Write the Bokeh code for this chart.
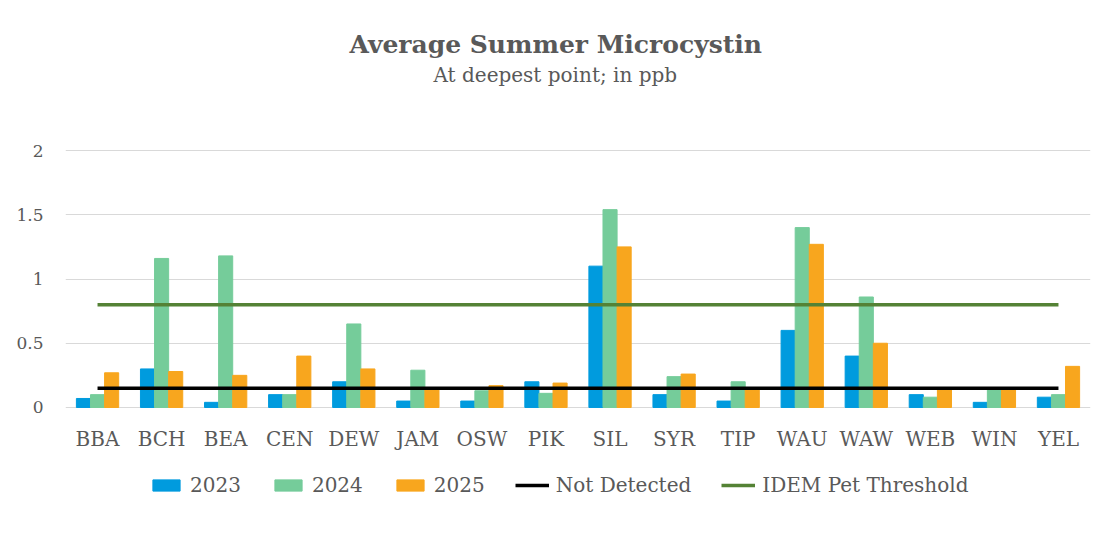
from bokeh.plotting import figure
from bokeh.layouts import column
from bokeh.models import FactorRange, Range1d, Title, Legend, LegendItem, FixedTicker
from bokeh.transform import dodge
from bokeh.embed import file_html
from bokeh.resources import INLINE

lakes = ["BBA", "BCH", "BEA", "CEN", "DEW", "JAM", "OSW", "PIK",
         "SIL", "SYR", "TIP", "WAU", "WAW", "WEB", "WIN", "YEL"]
v2023 = [0.07, 0.30, 0.04, 0.10, 0.20, 0.05, 0.05, 0.20,
         1.10, 0.10, 0.05, 0.60, 0.40, 0.10, 0.04, 0.08]
v2024 = [0.10, 1.16, 1.18, 0.10, 0.65, 0.29, 0.13, 0.11,
         1.54, 0.24, 0.20, 1.40, 0.86, 0.08, 0.15, 0.10]
v2025 = [0.27, 0.28, 0.25, 0.40, 0.30, 0.15, 0.17, 0.19,
         1.25, 0.26, 0.15, 1.27, 0.50, 0.15, 0.15, 0.32]
not_detected = [0.15] * len(lakes)
idem_threshold = [0.8] * len(lakes)
years = ["2023", "2024", "2025"]
line_names = ["Not Detected", "IDEM Pet Threshold"]
y_ticks = [0, 0.5, 1, 1.5, 2]

TEXT = "#595959"
FONT = "DejaVu Serif"
C23, C24, C25 = "#009BDE", "#75CC9A", "#F8A61E"
CND, CIDEM = "#000000", "#548235"

p = figure(frame_width=1025, frame_height=259,
           x_range=FactorRange(*lakes), y_range=Range1d(-0.008, 2.008),
           output_backend="svg", toolbar_location=None,
           min_border_left=65, min_border_right=14,
           min_border_top=149, min_border_bottom=52)

data = dict(lake=lakes, y2023=v2023, y2024=v2024, y2025=v2025,
            nd=not_detected, idem=idem_threshold)

w = 0.22
p.vbar(x=dodge("lake", -w, range=p.x_range), top="y2023", width=w,
       source=data, color=C23)
p.vbar(x=dodge("lake", 0, range=p.x_range), top="y2024", width=w,
       source=data, color=C24)
p.vbar(x=dodge("lake", w, range=p.x_range), top="y2025", width=w,
       source=data, color=C25)
p.line(x="lake", y="nd", source=data, line_color=CND, line_width=3.5)
p.line(x="lake", y="idem", source=data, line_color=CIDEM, line_width=3.5)

# spacer between subtitle and plot area
p.add_layout(Title(text=" ", text_font=FONT, text_font_size="20px",
                   standoff=35), "above")
p.add_layout(Title(text="At deepest point; in ppb", align="left", offset=368,
                   text_font=FONT, text_font_size="20px",
                   text_font_style="normal", text_color=TEXT,
                   standoff=4), "above")
p.add_layout(Title(text="Average Summer Microcystin", align="left", offset=284,
                   text_font=FONT, text_font_size="25px",
                   text_font_style="bold", text_color=TEXT,
                   standoff=0), "above")

p.outline_line_color = None
p.background_fill_color = "white"
p.border_fill_color = "white"

p.xgrid.grid_line_color = None
p.ygrid.grid_line_color = "#D9D9D9"
p.ygrid.grid_line_width = 1

p.yaxis.ticker = FixedTicker(ticks=y_ticks)
p.yaxis.major_label_overrides = {0: "0", 0.5: "0.5", 1: "1", 1.5: "1.5", 2: "2"}
for ax in (p.xaxis[0], p.yaxis[0]):
    ax.axis_line_color = None
    ax.major_tick_line_color = None
    ax.minor_tick_line_color = None
    ax.major_tick_out = 0
    ax.major_tick_in = 0
    ax.major_label_text_font = FONT
    ax.major_label_text_color = TEXT
p.yaxis.major_label_text_font_size = "17px"
p.yaxis.major_label_standoff = 22
p.xaxis.major_label_text_font_size = "20px"
p.xaxis.major_label_standoff = 18

# legend strip (separate figure placed directly below the chart)
lg = figure(width=1104, height=70, x_range=Range1d(0, 1), y_range=Range1d(0, 1),
            output_backend="svg", toolbar_location=None,
            x_axis_type=None, y_axis_type=None,
            min_border=0, min_border_left=0, min_border_right=0,
            min_border_top=0, min_border_bottom=0)
lg.xgrid.grid_line_color = None
lg.ygrid.grid_line_color = None
lg.outline_line_color = None
lg.background_fill_color = "white"
lg.border_fill_color = "white"

# legend-key renderers: one point each, outside the visible range
key = dict(x=[-5, -6], y=[-5, -6])
k23 = lg.vbar(x="x", top="y", width=0.1, source=key, color=C23)
k24 = lg.vbar(x="x", top="y", width=0.1, source=key, color=C24)
k25 = lg.vbar(x="x", top="y", width=0.1, source=key, color=C25)
knd = lg.line(x="x", y="y", source=key, line_color=CND, line_width=3.5)
kidem = lg.line(x="x", y="y", source=key, line_color=CIDEM, line_width=3.5)

legend = Legend(items=[
    LegendItem(label=years[0], renderers=[k23]),
    LegendItem(label=years[1], renderers=[k24]),
    LegendItem(label=years[2], renderers=[k25]),
    LegendItem(label=line_names[0], renderers=[knd]),
    LegendItem(label=line_names[1], renderers=[kidem]),
], orientation="horizontal", location=(84, 33),
    label_text_font=FONT, label_text_font_size="20px",
    label_text_color=TEXT, glyph_width=34, glyph_height=14,
    spacing=30, label_standoff=7, border_line_color=None,
    background_fill_alpha=0, padding=6, margin=0)
lg.add_layout(legend, "center")

layout = column(p, lg, spacing=0)
open("out.html", "w").write(file_html(layout, INLINE))
